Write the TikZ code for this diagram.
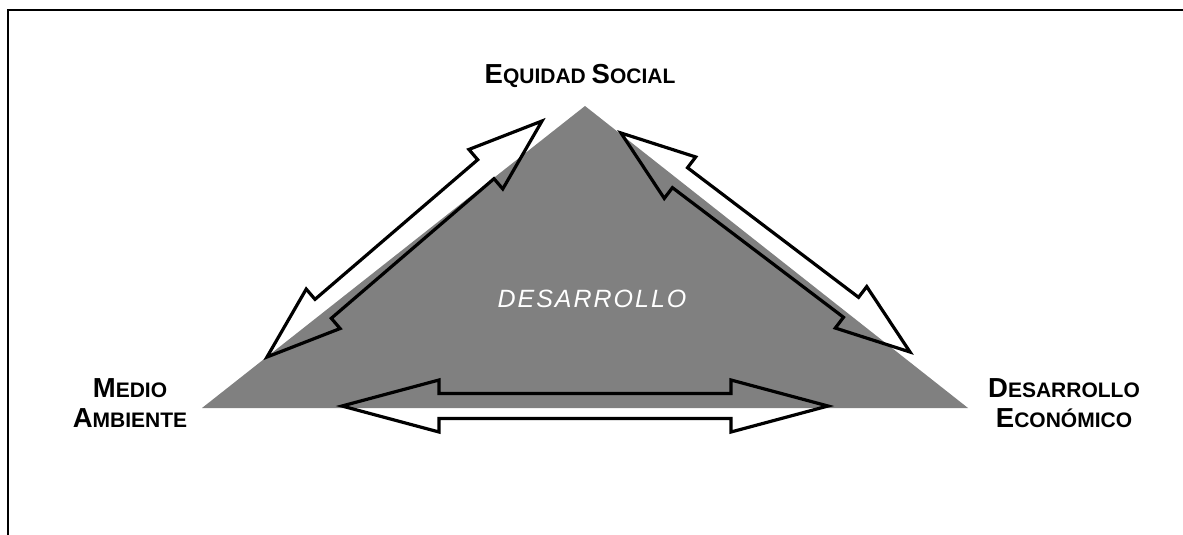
\documentclass[tikz,border=0pt]{standalone}
\usepackage{fontspec}
\setmainfont{Liberation Sans}
\usetikzlibrary{calc}
\definecolor{trigray}{HTML}{808080}
\newcommand\capsword[2]{{\fontsize{27.5}{30}\selectfont #1}#2}
\tikzset{
  concept/.style={font=\bfseries\fontsize{21}{30}\selectfont, align=center, inner sep=0pt},
  blockarrow/.style={line width=3.2pt, line join=miter},
}
% double block arrow between two named points, #3 = head length
\newcommand\dblarrow[3]{%
  \draw[blockarrow] let \p1=($(#2)-(#1)$), \n1={veclen(\x1,\y1)}, \n2={atan2(\y1,\x1)} in
    [shift={(#1)}, rotate=\n2]
    (0,0) -- (#3,26) -- (#3,12.5) -- (\n1-#3,12.5) -- (\n1-#3,26) -- (\n1,0)
    -- (\n1-#3,-26) -- (\n1-#3,-12.5) -- (#3,-12.5) -- (#3,-26) -- cycle;}
\begin{document}
\begin{tikzpicture}[x=1pt,y=-1pt]
\clip (0,0) rectangle (1183,535);
\draw[line width=2pt] (7.5,560) -- (7.5,10.5) -- (1200,10.5);
\fill[trigray] (585,106) -- (968,408) -- (202,408) -- cycle;
\node[white, inner sep=0pt, anchor=base, font=\itshape\fontsize{25}{30}\selectfont\addfontfeature{LetterSpace=8}] (dev) at (592,307) {DESARROLLO};
\node[concept, anchor=base] (eq) at (580,83) {\capsword{E}{QUIDAD} \capsword{S}{OCIAL}};
\node[concept, anchor=base] (ma) at (130,427) {\capsword{M}{EDIO}\\\capsword{A}{MBIENTE}};
\node[concept, anchor=base] (de) at (1064,427) {\capsword{D}{ESARROLLO}\\\capsword{E}{CONÓMICO}};
\coordinate (l1) at (267,357); \coordinate (l2) at (542,121);
\coordinate (r1) at (621,133); \coordinate (r2) at (910,352);
\coordinate (b1) at (342,406); \coordinate (b2) at (828,406);
\dblarrow{l1}{l2}{74}
\dblarrow{r1}{r2}{74}
\dblarrow{b1}{b2}{97}
\end{tikzpicture}
\end{document}
